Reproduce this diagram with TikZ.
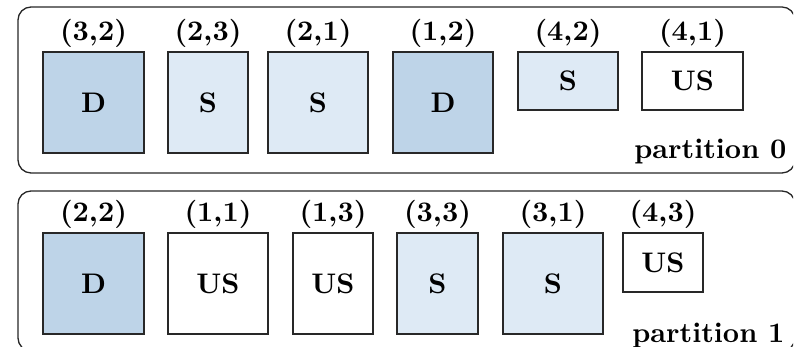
\documentclass[tikz,border=0pt]{standalone}
\usetikzlibrary{fit}
\definecolor{cellDark}{RGB}{190,212,232}
\definecolor{cellLight}{RGB}{222,234,245}
\definecolor{cellEdge}{RGB}{40,40,40}
\begin{document}
\begin{tikzpicture}[x=0.385pt,y=-0.385pt,
  font=\fontsize{10.9}{13}\selectfont\bfseries,
  cell/.style={draw=cellEdge, line width=0.45pt, inner sep=0pt},
  dcell/.style={cell, fill=cellDark},
  scell/.style={cell, fill=cellLight},
  ucell/.style={cell, fill=white},
  lbl/.style={anchor=base, inner sep=0pt},
  part/.style={draw=black!85, line width=0.5pt, rounded corners=5pt},
  ptext/.style={anchor=base east, inner sep=0pt}]
\useasboundingbox (0,0) rectangle (798,347);
\begin{scope}
\clip (0,0) rectangle (793,347);
% partition frames
\draw[part] (18,7) rectangle (795,173);
\draw[part] (18,191) rectangle (795,351);
\end{scope}

% partition 0
\node[dcell, fit={(43,52) (144,153)},  label=center:D]  (a1) {};
\node[scell, fit={(168,52) (248,153)}, label=center:S]  (a2) {};
\node[scell, fit={(268,52) (368,153)}, label=center:S]  (a3) {};
\node[dcell, fit={(393,52) (493,153)}, label=center:D]  (a4) {};
\node[scell, fit={(518,52) (618,110)}, label=center:S]  (a5) {};
\node[ucell, fit={(642,52) (743,110)}, label=center:US] (a6) {};
\node[lbl] at (93.5,41)  {(3,2)};
\node[lbl] at (208,41)   {(2,3)};
\node[lbl] at (318,41)   {(2,1)};
\node[lbl] at (443,41)   {(1,2)};
\node[lbl] at (568,41)   {(4,2)};
\node[lbl] at (692.5,41) {(4,1)};
\node[ptext] (p0) at (787,159) {partition 0};

% partition 1
\node[dcell, fit={(43,233) (144,334)},  label=center:D]  (b1) {};
\node[ucell, fit={(168,233) (268,334)}, label=center:US] (b2) {};
\node[ucell, fit={(293,233) (373,334)}, label=center:US] (b3) {};
\node[scell, fit={(397,233) (478,334)}, label=center:S]  (b4) {};
\node[scell, fit={(503,233) (603,334)}, label=center:S]  (b5) {};
\node[ucell, fit={(623,233) (703,292)}, label=center:US] (b6) {};
\node[lbl] at (93.5,222) {(2,2)};
\node[lbl] at (218,222)  {(1,1)};
\node[lbl] at (333,222)  {(1,3)};
\node[lbl] at (437.5,222){(3,3)};
\node[lbl] at (553,222)  {(3,1)};
\node[lbl] at (663,222)  {(4,3)};
\node[ptext] (p1) at (785,343) {partition 1};
\end{tikzpicture}
\end{document}
